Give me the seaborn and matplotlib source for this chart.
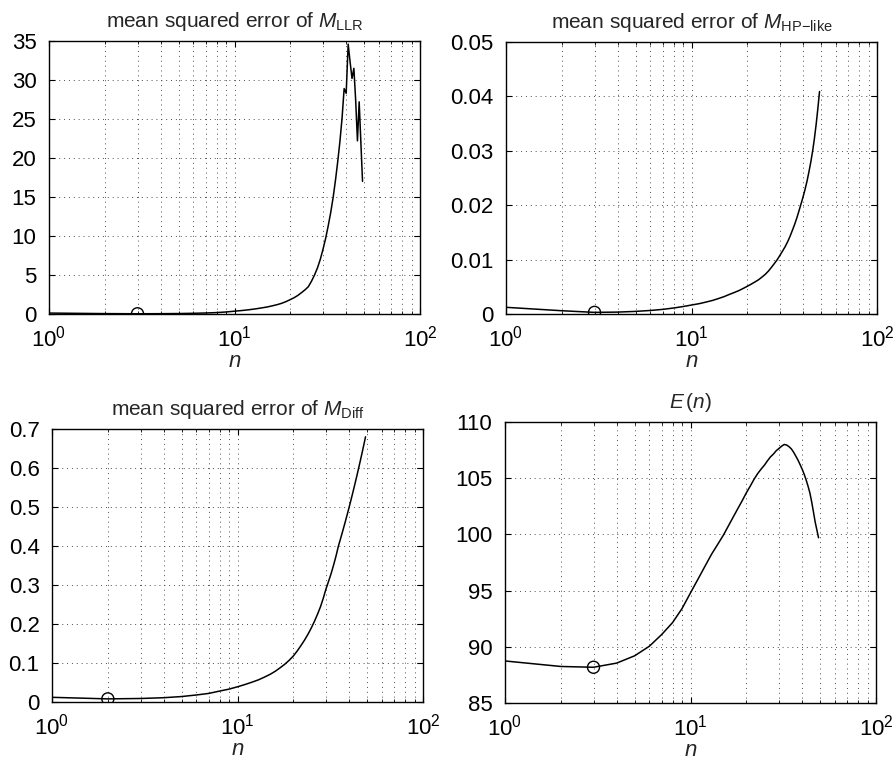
import numpy as np
import pandas as pd
import matplotlib
matplotlib.use("Agg")
import matplotlib.pyplot as plt
from matplotlib.ticker import FuncFormatter, LogLocator, NullFormatter, MultipleLocator
import seaborn as sns

# ---------------- data ----------------
n_llr = list(range(1, 50))
mse_llr = [0.12, 0.05, 0.03, 0.04, 0.06, 0.09, 0.13, 0.18, 0.26, 0.36,
           0.45, 0.55, 0.66, 0.78, 0.90, 1.05, 1.20, 1.38, 1.60, 1.85,
           2.10, 2.40, 2.75, 3.10, 3.50, 4.20, 5.00, 5.90, 7.00, 8.30,
           9.70, 11.3, 13.0, 14.9, 17.1, 19.5, 22.1, 25.1, 28.9, 28.3,
           34.6, 32.3, 30.2, 31.5, 27.4, 22.2, 27.2, 22.0, 17.0]

n_hp = list(range(1, 50))
mse_hp = [0.00123, 0.0006, 0.0003, 0.00035, 0.00048, 0.00065, 0.00085, 0.0011, 0.00137, 0.00165,
          0.0019, 0.0022, 0.0025, 0.00285, 0.0032, 0.0036, 0.00395, 0.0043, 0.0047, 0.0051,
          0.0055, 0.0059, 0.0063, 0.0068, 0.0073, 0.0079, 0.0086, 0.0093, 0.0100, 0.0108,
          0.0116, 0.0124, 0.0133, 0.0143, 0.0154, 0.0165, 0.0177, 0.0190, 0.0203, 0.0216,
          0.0230, 0.0245, 0.0262, 0.0280, 0.0300, 0.0323, 0.0349, 0.0378, 0.0409]

n_diff = list(range(1, 50))
mse_diff = [0.012, 0.008, 0.009, 0.011, 0.014, 0.018, 0.022, 0.028, 0.033, 0.039,
            0.045, 0.051, 0.057, 0.064, 0.071, 0.079, 0.088, 0.097, 0.107, 0.118,
            0.131, 0.145, 0.159, 0.174, 0.190, 0.207, 0.225, 0.244, 0.266, 0.290,
            0.310, 0.330, 0.352, 0.375, 0.400, 0.420, 0.440, 0.460, 0.480, 0.500,
            0.520, 0.540, 0.560, 0.580, 0.600, 0.620, 0.640, 0.660, 0.680]

n_e = list(range(1, 50))
e_vals = [88.74, 88.25, 88.18, 88.55, 89.20, 90.05, 91.10, 92.15, 93.40, 94.80,
          96.05, 97.20, 98.25, 99.10, 99.90, 100.75, 101.55, 102.30, 103.00, 103.70,
          104.30, 104.90, 105.40, 105.80, 106.15, 106.55, 106.90, 107.15, 107.45, 107.65,
          107.85, 108.00, 107.95, 107.80, 107.60, 107.30, 106.95, 106.60, 106.20, 105.80,
          105.35, 104.85, 104.30, 103.70, 102.90, 102.00, 101.10, 100.40, 99.70]

titles = [r"mean squared error of $M_{\mathrm{LLR}}$",
          r"mean squared error of $M_{\mathrm{HP{-}like}}$",
          r"mean squared error of $M_{\mathrm{Diff}}$",
          r"$E\,(n)$"]
ylims = [(0, 35), (0, 0.05), (0, 0.7), (85, 110)]
ysteps = [5, 0.01, 0.1, 5]

# ---------------- style ----------------
sns.set_style("ticks")
plt.rcParams["font.family"] = ["Liberation Sans", "DejaVu Sans"]
plt.rcParams["mathtext.fontset"] = "custom"
plt.rcParams["mathtext.rm"] = "Liberation Sans"
plt.rcParams["mathtext.it"] = "Liberation Sans:italic"
plt.rcParams["mathtext.bf"] = "Liberation Sans:bold"

W, H = 893, 763
fig = plt.figure(figsize=(W / 100, H / 100), dpi=100)

boxes = [(49, 41, 420, 314), (506, 42, 877, 314), (52, 429, 423, 702), (505, 422, 876, 703)]
series = [(n_llr, mse_llr), (n_hp, mse_hp), (n_diff, mse_diff), (n_e, e_vals)]

fmt = FuncFormatter(lambda v, p: "%g" % round(v, 6))

for (x0, y0, x1, y1), (xs, ys), title, ylim, ystep in zip(boxes, series, titles, ylims, ysteps):
    ax = fig.add_axes([x0 / W, 1 - y1 / H, (x1 - x0) / W, (y1 - y0) / H])
    df = pd.DataFrame({"n": xs, "v": ys})
    sns.lineplot(data=df, x="n", y="v", ax=ax, color="black", linewidth=1.1, zorder=3)
    imin = int(np.argmin(ys))
    mk = df.iloc[[imin]]
    sns.scatterplot(data=mk, x="n", y="v", ax=ax, marker="o", s=75,
                    facecolors="none", edgecolor="black", linewidth=1.0, zorder=4)
    ax.set_xscale("log")
    ax.set_xlim(1, 100)
    ax.set_ylim(*ylim)
    ax.yaxis.set_major_locator(MultipleLocator(ystep))
    ax.yaxis.set_major_formatter(fmt)
    ax.xaxis.set_major_locator(LogLocator(base=10, numticks=5))
    ax.xaxis.set_minor_locator(LogLocator(base=10, subs=np.arange(2, 10), numticks=20))
    ax.xaxis.set_minor_formatter(NullFormatter())
    ax.grid(True, which="major", axis="both", linestyle=(0, (1, 4)), color="0.3", linewidth=0.7)
    ax.grid(True, which="minor", axis="x", linestyle=(0, (1, 4)), color="0.3", linewidth=0.7)
    ax.tick_params(which="both", direction="in", top=True, right=True, colors="black",
                   labelsize=16)
    ax.tick_params(which="major", length=4, width=0.8)
    ax.tick_params(which="minor", length=2.5, width=0.6)
    ax.tick_params(axis="x", which="major", pad=8)
    ax.tick_params(axis="y", which="major", pad=9)
    for s in ax.spines.values():
        s.set_linewidth(1.0)
        s.set_color("black")
    ax.set_xlabel(r"$n$", fontsize=16, labelpad=0)
    ax.set_ylabel("")
    ax.set_title(title, fontsize=15, pad=10)

fig.savefig("out.png", dpi=100)
